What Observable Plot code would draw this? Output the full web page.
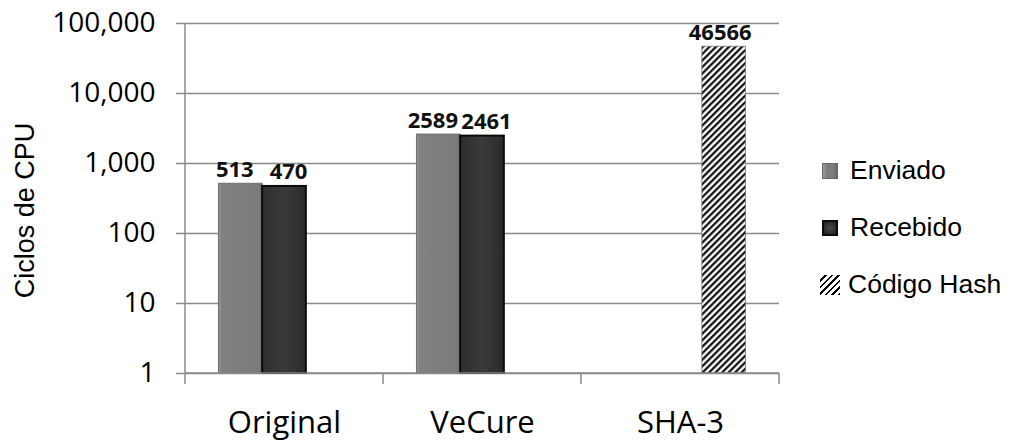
<!DOCTYPE html>
<html>
<head>
<meta charset="utf-8">
<script src="https://cdn.jsdelivr.net/npm/d3@7"></script>
<script src="https://cdn.jsdelivr.net/npm/@observablehq/plot@0.6"></script>
<style>
  body { margin: 0; background: #fff; }
  #wrap { position: relative; width: 1009px; height: 442px; overflow: hidden; }
  #wrap svg { position: absolute; left: 0; top: 0; }
  .leg { position: absolute; left: 820px; font-family: "Liberation Sans", Arial, sans-serif; font-size: 26.5px; color: #000; display: flex; align-items: center; white-space: nowrap; }
  .sw { width: 16px; height: 16px; margin-right: 12px; box-sizing: border-box; }
</style>
</head>
<body>
<div id="wrap"></div>
<script>
// ---- data ----
const categories = ["Original", "VeCure", "SHA-3"];
const enviado = [513, 2589, null];
const recebido = [470, 2461, null];
const codigoHash = [null, null, 46566];
const seriesNames = ["Enviado", "Recebido", "Código Hash"];
const yTicks = [1, 10, 100, 1000, 10000, 100000];
const yLabel = "Ciclos de CPU";

const rows = (vals) => categories.map((c, i) => ({category: c, value: vals[i]})).filter(d => d.value != null);
const dEnv = rows(enviado), dRec = rows(recebido), dHash = rows(codigoHash);

// ---- layout ----
const W = 1009, H = 442;
const mL = 185, mR = 230, mT = 23, mB = 69;
const bw = (W - mL - mR) / categories.length;   // band width
const gapFrac = 0.338;                           // gap between clusters
const slot = bw * (1 - gapFrac) / 3;
const off = bw * gapFrac / 2;
const ins = (k) => ({insetLeft: off + k * slot, insetRight: bw - off - (k + 1) * slot});
const lblDx = (k, shift) => off + (k + 0.5) * slot - bw / 2 + shift;

const defs = () => {
  const g = d3.create("svg:defs");
  const p = g.append("pattern").attr("id", "hatch").attr("patternUnits", "userSpaceOnUse")
    .attr("width", 4.6).attr("height", 4.6).attr("patternTransform", "rotate(45)");
  p.append("rect").attr("width", 4.6).attr("height", 4.6).attr("fill", "#fff");
  p.append("line").attr("x1", 1.2).attr("x2", 1.2).attr("y1", 0).attr("y2", 4.6)
    .attr("stroke", "#000").attr("stroke-width", 2.1);
  const gr = g.append("linearGradient").attr("id", "gEnv").attr("x1", 0).attr("x2", 1).attr("y1", 0).attr("y2", 0);
  gr.append("stop").attr("offset", "0").attr("stop-color", "#959595");
  gr.append("stop").attr("offset", "0.08").attr("stop-color", "#808080");
  gr.append("stop").attr("offset", "0.92").attr("stop-color", "#7b7b7b");
  gr.append("stop").attr("offset", "1").attr("stop-color", "#6a6a6a");
  const gr2 = g.append("linearGradient").attr("id", "gRec").attr("x1", 0).attr("x2", 1).attr("y1", 0).attr("y2", 0);
  gr2.append("stop").attr("offset", "0").attr("stop-color", "#2e2e2e");
  gr2.append("stop").attr("offset", "0.5").attr("stop-color", "#3a3a3a");
  gr2.append("stop").attr("offset", "1").attr("stop-color", "#2a2a2a");
  return g.node();
};

// boundary ticks on the category axis, plus axis lines
const boundaryTicks = (index, scales, values, dims) => {
  const x = scales.x;
  const b = x.bandwidth();
  const xs = categories.map(c => x(c)).concat([x(categories[categories.length - 1]) + b]);
  const g = d3.create("svg:g").attr("stroke", "#8a8a8a").attr("stroke-width", 1.5);
  const y0 = dims.height - dims.marginBottom;
  xs.forEach(v => g.append("line").attr("x1", v).attr("x2", v).attr("y1", y0).attr("y2", y0 + 11));
  g.append("line").attr("x1", dims.marginLeft).attr("x2", dims.width - dims.marginRight).attr("y1", y0).attr("y2", y0);
  g.append("line").attr("x1", dims.marginLeft).attr("x2", dims.marginLeft).attr("y1", dims.marginTop).attr("y2", y0);
  return g.node();
};

const labelStyle = {fontFamily: "Open Sans", fontWeight: 700, fontSize: 22, fill: "#111", lineAnchor: "bottom", dy: -7};

const chart = Plot.plot({
  width: W, height: H,
  marginLeft: mL, marginRight: mR, marginTop: mT, marginBottom: mB,
  style: {fontFamily: "Open Sans", background: "#fff", overflow: "visible"},
  x: {domain: categories, padding: 0},
  y: {type: "log", domain: [1, 100000]},
  marks: [
    defs,
    Plot.gridY(yTicks, {stroke: "#8a8a8a", strokeOpacity: 1, strokeWidth: 1.5}),
    Plot.barY(dEnv, {x: "category", y1: () => 1, y2: "value", fill: "url(#gEnv)", stroke: "#6f6f6f", strokeWidth: 1, ...ins(0)}),
    Plot.barY(dRec, {x: "category", y1: () => 1, y2: "value", fill: "url(#gRec)", stroke: "#0a0a0a", strokeWidth: 2, ...ins(1)}),
    Plot.barY(dHash, {x: "category", y1: () => 1, y2: "value", fill: "url(#hatch)", stroke: "#777", strokeWidth: 0.8, ...ins(2)}),
    Plot.text(dEnv, {x: "category", y: "value", text: d => String(d.value), dx: lblDx(0, -6), ...labelStyle}),
    Plot.text(dRec, {x: "category", y: "value", text: d => String(d.value), dx: lblDx(1, 4), ...labelStyle}),
    Plot.text(dHash, {x: "category", y: "value", text: d => String(d.value), dx: lblDx(2, -4), ...labelStyle}),
    Plot.axisY(yTicks, {tickFormat: d3.format(","), tickSize: 9, tickPadding: 21, stroke: "#8a8a8a", strokeWidth: 1.5, fontSize: 28, fill: "#000", label: null}),
    Plot.axisX({tickSize: 0, tickPadding: 37, fontSize: 31, fill: "#000", label: null}),
    boundaryTicks,
    Plot.text([yLabel], {frameAnchor: "left", textAnchor: "middle", rotate: -90, dx: -160, dy: 12, text: d => d,
      fontFamily: "Liberation Sans", fontSize: 27, fill: "#000"})
  ]
});

const wrap = document.getElementById("wrap");
wrap.appendChild(chart);

// legend
const legendSwatches = [
  {bg: "linear-gradient(90deg,#9a9a9a,#7d7d7d 30%,#7d7d7d 70%,#6a6a6a)", border: "1px solid #6a6a6a"},
  {bg: "radial-gradient(#4a4a4a,#1e1e1e)", border: "2px solid #0a0a0a"},
  {bg: "repeating-linear-gradient(-45deg,#000 0 2.1px,#fff 2.1px 4.6px)", border: "none"}
];
const legendTops = [155, 212, 269];
seriesNames.forEach((name, i) => {
  const d = document.createElement("div");
  d.className = "leg";
  d.style.top = legendTops[i] + "px";
  d.style.left = (i === 2 ? 820 : 822) + "px";
  const s = document.createElement("div");
  s.className = "sw";
  s.style.background = legendSwatches[i].bg;
  s.style.border = legendSwatches[i].border;
  if (i === 2) { s.style.width = "20px"; s.style.height = "20px"; s.style.marginRight = "8px"; }
  const t = document.createElement("span");
  t.textContent = name;
  d.appendChild(s); d.appendChild(t);
  wrap.appendChild(d);
});
</script>
</body>
</html>
